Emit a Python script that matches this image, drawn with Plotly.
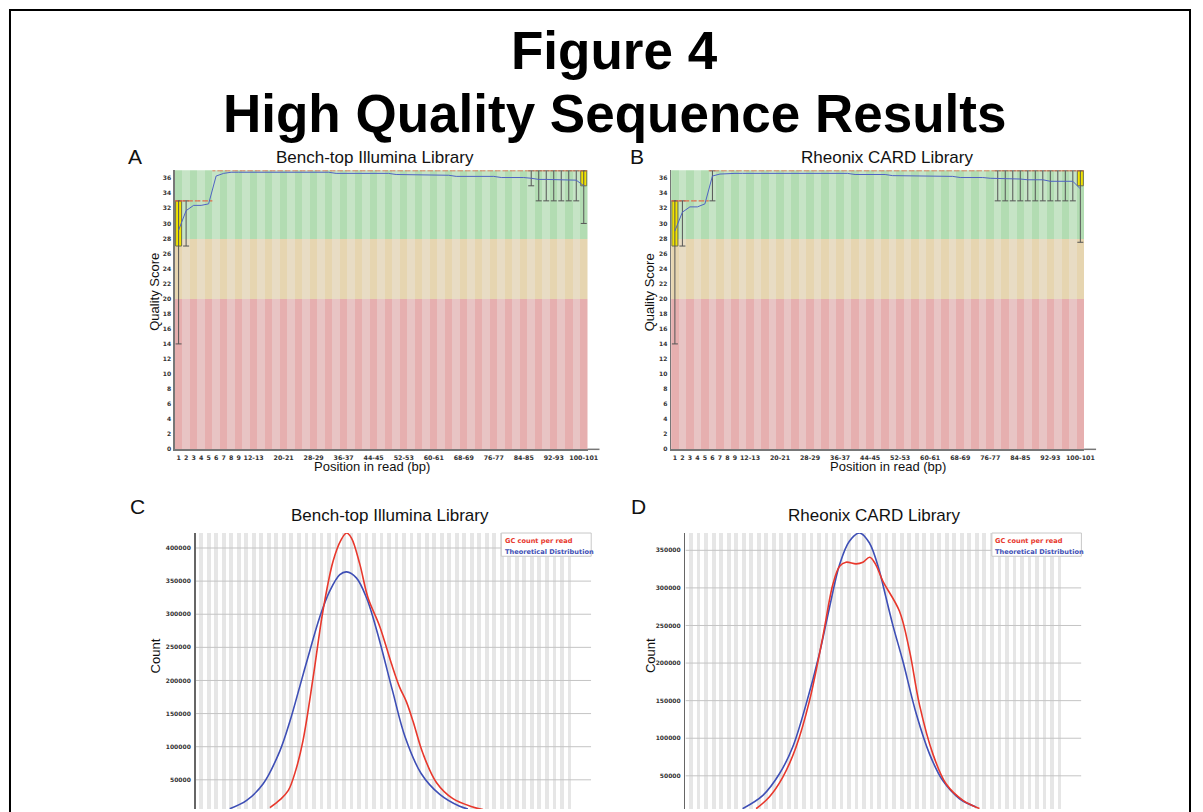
import plotly.graph_objects as go

W, H = 1193, 812  # calibrated effective drawing width/height in px
FONT = "Liberation Sans, Arial, sans-serif"
TFONT = "DejaVu Sans, sans-serif"

# ---------------- data: per-base quality (panels A, B) ----------------
QUAL_BINS = ["1", "2", "3", "4", "5", "6", "7", "8", "9", "10-11", "12-13", "14-15",
             "16-17", "18-19", "20-21", "22-23", "24-25", "26-27", "28-29", "30-31",
             "32-33", "34-35", "36-37", "38-39", "40-41", "42-43", "44-45", "46-47",
             "48-49", "50-51", "52-53", "54-55", "56-57", "58-59", "60-61", "62-63",
             "64-65", "66-67", "68-69", "70-71", "72-73", "74-75", "76-77", "78-79",
             "80-81", "82-83", "84-85", "86-87", "88-89", "90-91", "92-93", "94-95",
             "96-97", "98-99", "100-101"]
QUAL_TICKS = ["1", "2", "3", "4", "5", "6", "7", "8", "9", "12-13", "20-21", "28-29",
              "36-37", "44-45", "52-53", "60-61", "68-69", "76-77", "84-85", "92-93", "100-101"]
QUAL_YTICKS = [0, 2, 4, 6, 8, 10, 12, 14, 16, 18, 20, 22, 24, 26, 28, 30, 32, 34, 36]
ZONE_BAD = [0, 20]
ZONE_WARN = [20, 28]
ZONE_GOOD = [28, 37.05]

A_MEAN = [29.1, 31.7, 32.4, 32.4, 32.6, 36.3, 36.65, 36.8, 36.8,
          36.8, 36.8, 36.8, 36.8, 36.8, 36.8, 36.8, 36.8, 36.8, 36.8, 36.8, 36.8,
          36.65, 36.65, 36.65, 36.65, 36.65, 36.65, 36.65, 36.65,
          36.5, 36.5, 36.5, 36.5,
          36.4, 36.4, 36.4, 36.4,
          36.25, 36.25, 36.25, 36.25, 36.25, 36.25,
          36.1, 36.1, 36.1, 36.1,
          36.0,
          35.85, 35.85, 35.85,
          35.75, 35.75, 35.75,
          35.0]
A_MEDIAN = [33, 33, 33, 33, 33, 37, 37, 37, 37, 37, 37, 37, 37, 37, 37, 37, 37, 37, 37,
            37, 37, 37, 37, 37, 37, 37, 37, 37, 37, 37, 37, 37, 37, 37, 37, 37, 37, 37,
            37, 37, 37, 37, 37, 37, 37, 37, 37, 37, 37, 37, 37, 37, 37, 37, 37]
A_BOX_BINS = ["1", "100-101"]
A_BOX_Q1 = [27, 35]
A_BOX_Q3 = [33, 37]
A_WHISKER_BINS = ["1", "2", "86-87", "88-89", "90-91", "92-93", "94-95", "96-97", "98-99", "100-101"]
A_WHISKER_LOW = [14, 27, 35, 33, 33, 33, 33, 33, 33, 30]
A_WHISKER_HIGH = [33, 33, 37, 37, 37, 37, 37, 37, 37, 37]

B_MEAN = [29.0, 31.5, 32.2, 32.2, 32.6, 36.3, 36.56,
          36.65, 36.65, 36.65, 36.65, 36.65, 36.65, 36.65, 36.65, 36.65, 36.65, 36.65,
          36.65, 36.65, 36.65, 36.65, 36.65, 36.65,
          36.5, 36.5, 36.5, 36.5, 36.5,
          36.35, 36.35, 36.35, 36.35, 36.35,
          36.25, 36.25, 36.25, 36.25,
          36.1, 36.1, 36.1, 36.1,
          36.0, 36.0,
          35.9, 35.9, 35.9,
          35.8, 35.8, 35.8,
          35.6, 35.6, 35.6, 35.6,
          34.6]
B_MEDIAN = [33, 33, 33, 33, 33, 37, 37, 37, 37, 37, 37, 37, 37, 37, 37, 37, 37, 37, 37,
            37, 37, 37, 37, 37, 37, 37, 37, 37, 37, 37, 37, 37, 37, 37, 37, 37, 37, 37,
            37, 37, 37, 37, 37, 37, 37, 37, 37, 37, 37, 37, 37, 37, 37, 37, 37]
B_BOX_BINS = ["1", "100-101"]
B_BOX_Q1 = [27, 35]
B_BOX_Q3 = [33, 37]
B_WHISKER_BINS = ["1", "2", "6", "78-79", "80-81", "82-83", "84-85", "86-87", "88-89",
                  "90-91", "92-93", "94-95", "96-97", "98-99", "100-101"]
B_WHISKER_LOW = [14, 27, 33, 33, 33, 33, 33, 33, 33, 33, 33, 33, 33, 33, 27.5]
B_WHISKER_HIGH = [33, 33, 37, 37, 37, 37, 37, 37, 37, 37, 37, 37, 37, 37, 37]

# ---------------- data: GC content (panels C, D) ----------------
GC_CATEGORIES = list(range(0, 101))
C_YTICKS = [50000, 100000, 150000, 200000, 250000, 300000, 350000, 400000]
D_YTICKS = [50000, 100000, 150000, 200000, 250000, 300000, 350000]
C_YRANGE = [5950, 422600]
D_YRANGE = [5860, 373000]

C_GC_X = [19.3, 22.0, 24.2, 26.2, 28.1, 30.8, 33.4, 36.1, 38.2, 39.7, 41.0, 43.2, 45.4,
          48.5, 51.6, 53.8, 55.6, 57.4, 60.0, 63.6, 68.0, 73.3, 76.0]
C_GC_Y = [8000, 20000, 34000, 65000, 109300, 204500, 304800, 380000, 412000, 422600,
          415000, 376000, 324800, 282000, 226000, 190000, 168000, 138000, 90000, 46000,
          21500, 9000, 5000]
C_TH_X = [8.6, 13.1, 17.5, 21.9, 24.6, 27.2, 29.9, 32.5, 35.2, 37.9, 39.7, 42.3, 45.0,
          47.8, 51.9, 55.3, 59.5, 64.5, 69.8, 72.0]
C_TH_Y = [6400, 19000, 44000, 93000, 138000, 190000, 244600, 294700, 334800, 359800,
          363900, 354900, 324800, 274000, 185000, 114200, 60000, 28000, 10000, 6000]

D_GC_X = [18.3, 21.8, 25.4, 28.9, 32.5, 36.0, 38.7, 40.5, 42.2, 44.9, 46.7, 48.5, 50.0,
          52.0, 56.4, 59.1, 61.7, 65.3, 68.8, 73.3, 77.7]
D_GC_Y = [6300, 21800, 48300, 88000, 150000, 233900, 304500, 328900, 334200, 332000,
          334200, 340800, 332000, 309000, 269200, 216200, 145400, 79200, 39400, 17400, 6500]
D_TH_X = [14.7, 20.1, 24.5, 28.0, 31.6, 35.1, 37.8, 40.5, 43.1, 45.8, 48.4, 51.1, 52.0,
          54.6, 57.3, 60.9, 64.4, 67.9, 72.4, 76.8]
D_TH_Y = [6300, 24000, 52700, 88000, 145400, 211700, 273600, 331000, 362000, 373000,
          360000, 322300, 304500, 251500, 203000, 132200, 79200, 43900, 19500, 8500]


def fx(px):
    return px / W


def fy(py):
    return 1 - py / H


fig = go.Figure()

# ---------------- quality panels ----------------
ZONE_COLORS = [
    (ZONE_BAD, "#e8c4c4", "#e6afaf"),
    (ZONE_WARN, "#e8dcc4", "#e6d5b0"),
    (ZONE_GOOD, "#c6e4c6", "#b2dcb2"),
]


def quality_panel(xa, ya, mean, median, box_bins, q1, q3, wb, wlo, whi):
    idx = list(range(len(QUAL_BINS)))
    for (lo, hi), light, dark in ZONE_COLORS:
        fig.add_trace(go.Bar(
            x=idx, y=[hi - lo] * len(idx), base=[lo] * len(idx), width=1,
            marker=dict(color=[dark if i % 2 == 0 else light for i in idx], line=dict(width=0)),
            xaxis=xa, yaxis=ya, showlegend=False, hoverinfo="skip"))
    bi = [QUAL_BINS.index(b) for b in box_bins]
    fig.add_trace(go.Bar(
        x=bi, y=[b - a for a, b in zip(q1, q3)], base=q1, width=0.8,
        marker=dict(color="#f2e400", line=dict(color="#707050", width=1)),
        xaxis=xa, yaxis=ya, showlegend=False, hoverinfo="skip"))
    wx, wy = [], []
    for b, lo, hi in zip(wb, wlo, whi):
        i = QUAL_BINS.index(b)
        wx += [i, i, None, i - 0.4, i + 0.4, None, i - 0.4, i + 0.4, None]
        wy += [lo, hi, None, lo, lo, None, hi, hi, None]
    fig.add_trace(go.Scatter(x=wx, y=wy, mode="lines", line=dict(color="#555555", width=1),
                             xaxis=xa, yaxis=ya, showlegend=False, hoverinfo="skip"))
    mx, my = [], []
    for i, m in zip(idx, median):
        mx += [i - 0.5, i + 0.5, None]
        my += [m, m, None]
    fig.add_trace(go.Scatter(x=mx, y=my, mode="lines", cliponaxis=False,
                             line=dict(color="#e06a4a", width=1.2, dash="3px,2px"),
                             xaxis=xa, yaxis=ya, showlegend=False, hoverinfo="skip"))
    fig.add_trace(go.Scatter(x=idx, y=mean, mode="lines", line=dict(color="#4f63c4", width=1),
                             xaxis=xa, yaxis=ya, showlegend=False, hoverinfo="skip"))


quality_panel("x", "y", A_MEAN, A_MEDIAN, A_BOX_BINS, A_BOX_Q1, A_BOX_Q3,
              A_WHISKER_BINS, A_WHISKER_LOW, A_WHISKER_HIGH)
quality_panel("x2", "y2", B_MEAN, B_MEDIAN, B_BOX_BINS, B_BOX_Q1, B_BOX_Q3,
              B_WHISKER_BINS, B_WHISKER_LOW, B_WHISKER_HIGH)


# ---------------- GC panels ----------------
def gc_panel(xa, ya, yr, yticks, gx, gy, tx, ty, xmax):
    odd = [c for c in GC_CATEGORIES if c % 2 == 1]
    fig.add_trace(go.Bar(x=odd, y=[yr[1]] * len(odd), base=[0] * len(odd), width=1,
                         marker=dict(color="#e6e6e6", line=dict(width=0)),
                         xaxis=xa, yaxis=ya, showlegend=False, hoverinfo="skip"))
    gxl, gyl = [], []
    for t in yticks:
        gxl += [-0.5, xmax, None]
        gyl += [t, t, None]
    fig.add_trace(go.Scatter(x=gxl, y=gyl, mode="lines", line=dict(color="#c4c4c4", width=1),
                             xaxis=xa, yaxis=ya, showlegend=False, hoverinfo="skip"))
    fig.add_trace(go.Scatter(x=tx, y=ty, mode="lines",
                             line=dict(color="#3e4fb6", width=1.6, shape="spline", smoothing=1.0),
                             xaxis=xa, yaxis=ya, showlegend=False, hoverinfo="skip"))
    fig.add_trace(go.Scatter(x=gx, y=gy, mode="lines",
                             line=dict(color="#e8382c", width=1.6, shape="spline", smoothing=1.0),
                             xaxis=xa, yaxis=ya, showlegend=False, hoverinfo="skip"))


GC_XMAX = 104.8
gc_panel("x3", "y3", C_YRANGE, C_YTICKS, C_GC_X, C_GC_Y, C_TH_X, C_TH_Y, GC_XMAX)
gc_panel("x4", "y4", D_YRANGE, D_YTICKS, D_GC_X, D_GC_Y, D_TH_X, D_TH_Y, GC_XMAX)

# ---------------- axes ----------------
tickfont = dict(family=TFONT, size=6, color="#333333", weight="bold")
qx = dict(range=[-0.5, 54.5], tickmode="array",
          tickvals=[QUAL_BINS.index(t) for t in QUAL_TICKS], ticktext=QUAL_TICKS,
          tickfont=dict(family=TFONT, size=6.3, color="#333333", weight="bold"),
          showgrid=False, zeroline=False, showline=True, linecolor="#777777", linewidth=1.5,
          ticks="", ticklabelstandoff=2, fixedrange=True)
qy = dict(range=[0, 37.05], tickmode="array", tickvals=QUAL_YTICKS,
          tickfont=tickfont, showgrid=False, zeroline=False, showline=True,
          linecolor="#777777", linewidth=1.5, ticks="", ticklabelstandoff=1, fixedrange=True)
gx_ax = dict(range=[-0.5, GC_XMAX], showticklabels=False, showgrid=False, zeroline=False,
             showline=False, ticks="", fixedrange=True)

qy_top, qy_bot = 171, 451
fig.update_layout(
    xaxis=dict(qx, domain=[fx(175), fx(588)], anchor="y"),
    yaxis=dict(qy, domain=[fy(qy_bot), fy(qy_top)], anchor="x"),
    xaxis2=dict(qx, domain=[fx(671.7), fx(1085)], anchor="y2"),
    yaxis2=dict(qy, domain=[fy(qy_bot), fy(qy_top)], anchor="x2"),
    xaxis3=dict(gx_ax, domain=[fx(195.7), fx(591.7)], anchor="y3"),
    yaxis3=dict(range=C_YRANGE, domain=[0, fy(535)], anchor="x3", tickmode="array",
                tickvals=C_YTICKS, tickformat="d", tickfont=tickfont, showgrid=False,
                zeroline=False, showline=True, linecolor="#666666", linewidth=1.5,
                ticks="", ticklabelstandoff=2, fixedrange=True),
    xaxis4=dict(gx_ax, domain=[fx(686), fx(1082.3)], anchor="y4"),
    yaxis4=dict(range=D_YRANGE, domain=[0, fy(535)], anchor="x4", tickmode="array",
                tickvals=D_YTICKS, tickformat="d", tickfont=tickfont, showgrid=False,
                zeroline=False, showline=True, linecolor="#666666", linewidth=1.5,
                ticks="", ticklabelstandoff=2, fixedrange=True),
    barmode="overlay",
    bargap=0,
    autosize=True,
    margin=dict(l=0, r=0, t=0, b=0),
    paper_bgcolor="white", plot_bgcolor="white",
    showlegend=False,
)

# ---------------- text ----------------
ann = []


def text(s, px, py, size, bold=False, color="#111111", family=FONT, angle=0, xanchor="center"):
    ann.append(dict(text=s, x=fx(px), y=fy(py), xref="paper", yref="paper",
                    xanchor=xanchor, yanchor="middle", showarrow=False, textangle=angle,
                    font=dict(family=family, size=size, color=color,
                              weight="bold" if bold else "normal")))


text("Figure 4", 615, 51, 53, bold=True, color="#000000")
text("High Quality Sequence Results", 615, 114, 53, bold=True, color="#000000")
text("A", 135, 157, 21)
text("B", 638, 157, 21)
text("C", 138, 508, 21)
text("D", 639, 508, 21)
text("Bench-top Illumina Library", 375, 158, 17)
text("Rheonix CARD Library", 888, 158, 17)
text("Bench-top Illumina Library", 390, 517, 17)
text("Rheonix CARD Library", 875, 517, 17)
text("Quality Score", 155, 293, 13, angle=-90)
text("Quality Score", 650, 293, 13, angle=-90)
text("Position in read (bp)", 372, 468, 13)
text("Position in read (bp)", 889, 468, 13)
text("Count", 156, 658, 13, angle=-90)
text("Count", 651, 658, 13, angle=-90)
text("GC count per read", 503, 543, 6.6, color="#e8382c", family=TFONT, xanchor="left", bold=True)
text("Theoretical Distribution", 503, 554, 6.6, color="#3e4fb6", family=TFONT, xanchor="left", bold=True)
text("GC count per read", 994, 543, 6.6, color="#e8382c", family=TFONT, xanchor="left", bold=True)
text("Theoretical Distribution", 994, 554, 6.6, color="#3e4fb6", family=TFONT, xanchor="left", bold=True)

shapes = [
    dict(type="rect", xref="paper", yref="paper", x0=fx(10), x1=fx(1191), y0=-0.1, y1=fy(10),
         line=dict(color="#000000", width=2), fillcolor="rgba(0,0,0,0)", layer="above"),
    dict(type="rect", xref="paper", yref="paper", x0=fx(501.7), x1=fx(591.7), y0=fy(558.3), y1=fy(535),
         line=dict(color="#c8c8c8", width=1), fillcolor="white", layer="above"),
    dict(type="rect", xref="paper", yref="paper", x0=fx(992.7), x1=fx(1082.3), y0=fy(558.3), y1=fy(535),
         line=dict(color="#c8c8c8", width=1), fillcolor="white", layer="above"),
    dict(type="line", xref="paper", yref="paper", x0=fx(588), x1=fx(600), y0=fy(451), y1=fy(451),
         line=dict(color="#777777", width=1.5)),
    dict(type="line", xref="paper", yref="paper", x0=fx(1085), x1=fx(1097), y0=fy(451), y1=fy(451),
         line=dict(color="#777777", width=1.5)),
]
fig.update_layout(annotations=ann, shapes=shapes)

POST = ("document.documentElement.style.margin='0';document.body.style.margin='0';"
        "document.documentElement.style.overflow='hidden';document.body.style.overflow='hidden';"
        "var gd=document.getElementsByClassName('plotly-graph-div')[0];"
        "gd.style.width='100vw';gd.style.height='100vh';"
        "Plotly.relayout(gd,{width:window.innerWidth,height:window.innerHeight});")

fig.write_html("out.html", config={"displayModeBar": False, "staticPlot": True},
               default_width="100vw", default_height="100vh", post_script=POST)
